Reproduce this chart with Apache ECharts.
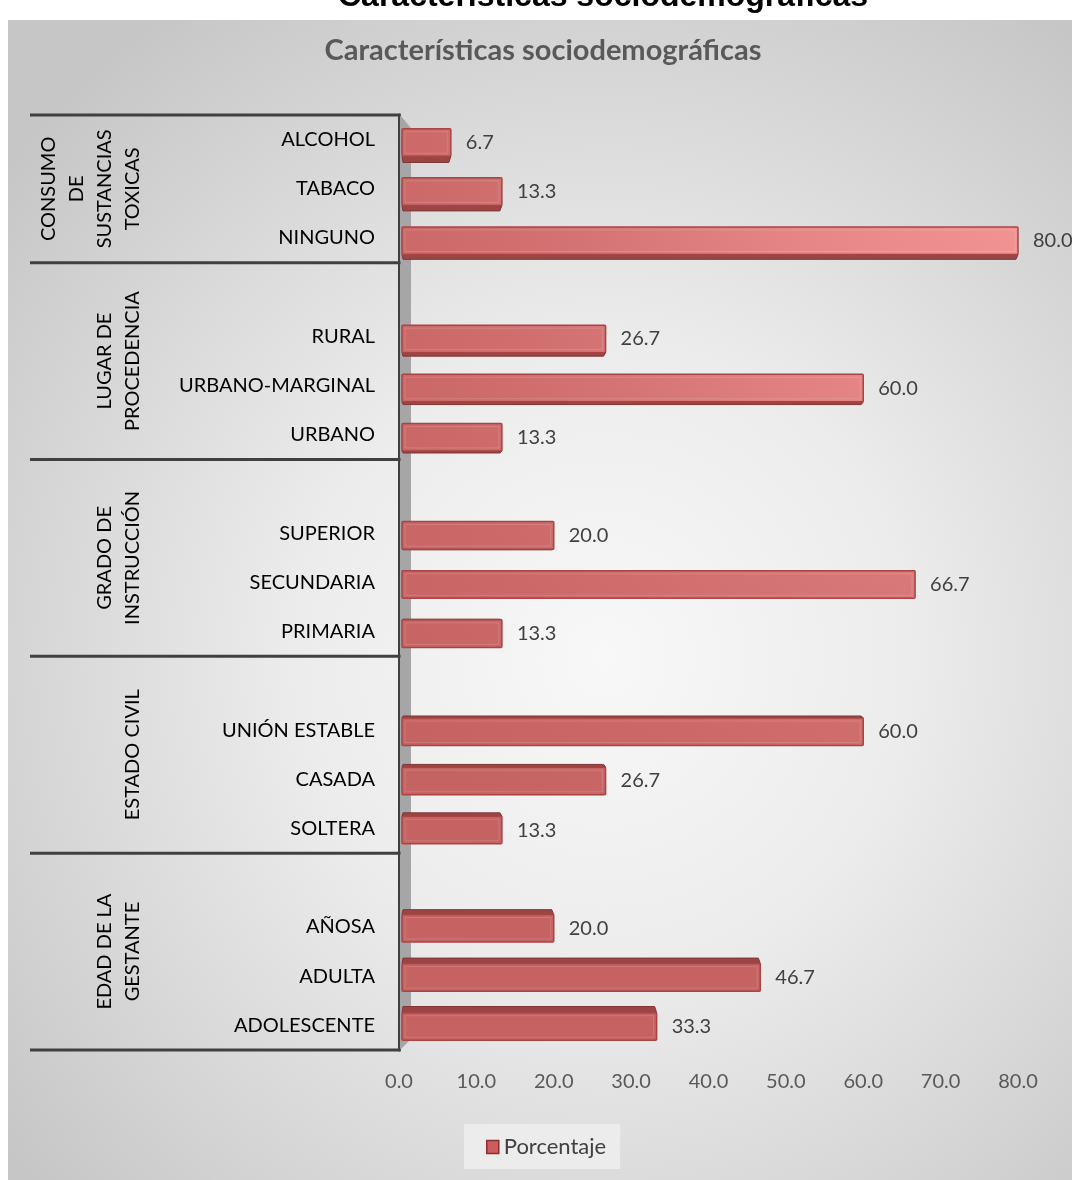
<!DOCTYPE html>
<html><head><meta charset="utf-8">
<script src="https://cdn.jsdelivr.net/npm/echarts@6/dist/echarts.min.js"></script>
<style>
html,body{margin:0;padding:0;background:#fff;}
#bg{position:absolute;left:8px;top:20px;width:1064px;height:1160px;
 background:radial-gradient(ellipse 72% 68% at 56% 55%, #f8f8f8 0%, #ececec 40%, #d6d6d6 75%, #c6c6c6 100%);}
#main{position:absolute;left:0;top:0;width:1072px;height:1180px;}
</style></head><body>
<div id="bg"></div><div id="main"></div>
<script>
const chartTitle = 'Características sociodemográficas';
const seriesName = 'Porcentaje';
const categories = ['ALCOHOL','TABACO','NINGUNO',' ','RURAL','URBANO-MARGINAL','URBANO','  ','SUPERIOR','SECUNDARIA','PRIMARIA','   ','UNIÓN ESTABLE','CASADA','SOLTERA','    ','AÑOSA','ADULTA','ADOLESCENTE'];
const porcentaje = [6.7,13.3,80.0,null,26.7,60.0,13.3,null,20.0,66.7,13.3,null,60.0,26.7,13.3,null,20.0,46.7,33.3];
const groupNames = ['CONSUMO\nDE\nSUSTANCIAS\nTOXICAS','LUGAR DE\nPROCEDENCIA','GRADO DE\nINSTRUCCIÓN','ESTADO CIVIL','EDAD DE LA\nGESTANTE'];
const groupSizes = [3,4,4,4,4];
const xMin = 0, xMax = 80, xInterval = 10;

(function(){
const FONT = 'Lato';
const chart = echarts.init(document.getElementById('main'), null, {renderer:'canvas'});

const barData = [];
porcentaje.forEach((v,i)=>{ if(v!=null) barData.push([v,i]); });

function renderItem(params, api){
  const v = api.value(0), idx = api.value(1);
  const a = api.coord([0, idx]), b = api.coord([v, idx]);
  const band = api.size([0,1])[1];
  const cs = params.coordSys;
  const cy = cs.y + cs.height/2;
  const off = cy - a[1];
  const shift = off*0.009, depth = off*0.014;
  const h = band*0.56;
  const fc = a[1] + 2 + shift - depth*0.5;
  const x0 = a[0]+3, x1 = b[0];
  const yt = fc - h/2, yb = fc + h/2;
  const faceFill = new echarts.graphic.RadialGradient(cs.x+cs.width+20, cs.y+90, 820, [
    {offset:0, color:'#f39595'},{offset:0.3, color:'#e68585'},{offset:0.55, color:'#d57474'},
    {offset:0.78, color:'#cb6868'},{offset:1, color:'#c56262'}], true);
  let pts;
  if(depth>0){
    pts = [[x0,yb],[x1,yb],[x1-2,yb+depth],[x0+1,yb+depth]];
  } else {
    pts = [[x0,yt],[x1,yt],[x1-2,yt+depth],[x0+1,yt+depth]];
  }
  return {type:'group', children:[
    {type:'polygon', shape:{points:pts}, style:{fill:'#9a4646', stroke:'#823434', lineWidth:1}},
    {type:'rect', shape:{x:x0, y:yt, width:x1-x0, height:h, r:1}, style:{fill:faceFill, stroke:'#a94444', lineWidth:1.5}},
    {type:'rect', shape:{x:x0+3, y:yt+3, width:Math.max(0,x1-x0-6), height:h-6}, style:{fill:'none', stroke:'rgba(255,255,255,0.15)', lineWidth:1}},
    {type:'text', style:{text:v.toFixed(1), x:x1+15, y:fc, verticalAlign:'middle', align:'left', fill:'#404040', font:'20px '+FONT}}
  ]};
}

const option = {
  animation:false,
  backgroundColor:'transparent',
  grid:{left:399, right:54, top:115, bottom:130},
  xAxis:{type:'value', min:xMin, max:xMax, interval:xInterval,
    axisLine:{show:false}, axisTick:{show:false}, splitLine:{show:false},
    axisLabel:{formatter:v=>v.toFixed(1), fontSize:20, color:'#595959', fontFamily:FONT, margin:22}},
  yAxis:{type:'category', inverse:true, data:categories,
    axisLine:{show:true, lineStyle:{color:'#404040', width:3}},
    axisTick:{show:false},
    axisLabel:{fontSize:20, color:'#000', fontFamily:FONT, margin:24, padding:[4,0,0,0]}},
  legend:{left:464, top:1124, padding:[12,14,11,22], backgroundColor:'#ececec',
    itemWidth:12, itemHeight:13, itemGap:5, textStyle:{fontSize:22, color:'#404040', fontFamily:FONT},
    data:[{name:seriesName, icon:'rect', itemStyle:{color:'#cd5c5c', borderColor:'#8e2f2f', borderWidth:1.5}}]},
  series:[{type:'custom', name:seriesName, renderItem:renderItem, data:barData,
    encode:{x:0, y:1}, itemStyle:{color:'#cd5c5c'}, z:3}]
};
chart.setOption(option);

const yAt = i => chart.convertToPixel({yAxisIndex:0}, i);
const band = yAt(1) - yAt(0);
const axX = chart.convertToPixel({xAxisIndex:0}, 0);
const plotTop = yAt(0) - band/2;
const plotBottom = yAt(categories.length-1) + band/2;
const gfx = [];
gfx.push({type:'text', x:603, y:13, style:{text:chartTitle, align:'center', verticalAlign:'bottom', font:'bold 32px "Liberation Sans"', fill:'#000'}});
gfx.push({type:'text', x:543, y:51, style:{text:chartTitle, align:'center', verticalAlign:'middle', font:'bold 29px '+FONT, fill:'#595959'}});
gfx.push({type:'polygon', z:1, shape:{points:[[axX+1,plotTop],[axX+12,plotTop+13],[axX+12,plotBottom-11],[axX+1,plotBottom]]}, style:{fill:'#a6a6a6'}});
let start = 0;
const bounds = [plotTop];
groupSizes.forEach((n,gi)=>{
  const gTop = yAt(start) - band/2;
  const gBot = yAt(start+n-1) + band/2;
  bounds.push(gBot);
  gfx.push({type:'text', x:147, y:(gTop+gBot)/2, rotation:Math.PI/2,
    style:{text:groupNames[gi], align:'center', verticalAlign:'bottom', lineHeight:28, font:'20px '+FONT, fill:'#000'}});
  start += n;
});
bounds.forEach(y=>{
  gfx.push({type:'line', z:5, shape:{x1:30, y1:y, x2:axX+1.5, y2:y}, style:{stroke:'#404040', lineWidth:3}});
});
chart.setOption({graphic:gfx});
})();
</script>
</body></html>
